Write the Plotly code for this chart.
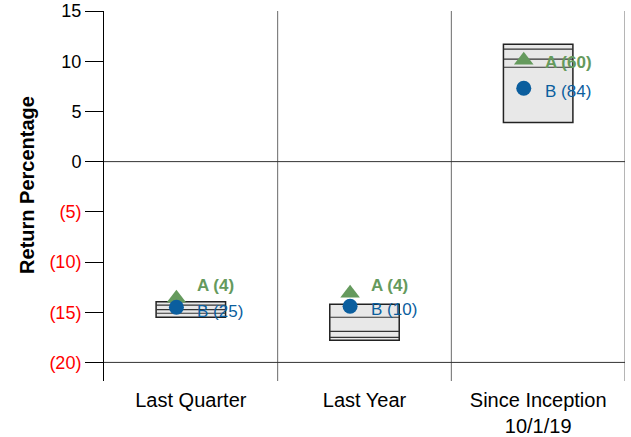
import plotly.graph_objects as go

categories = ["Last Quarter", "Last Year", "Since Inception<br>10/1/19"]
# percentile bands (top to bottom)
p05 = [-13.96, -14.2, 11.7]
p25 = [-14.3, -15.5, 11.2]
p50 = [-14.75, -16.9, 10.2]
p75 = [-15.1, -17.5, 9.4]
p95 = [-15.5, -17.8, 3.9]

a_values = [-13.6, -13.1, 10.1]
a_ranks = [4, 4, 60]
b_values = [-14.5, -14.4, 7.3]
b_ranks = [25, 10, 84]

y_ticks = [15, 10, 5, 0, -5, -10, -15, -20]

GREEN = "#659a5d"
BLUE = "#0b5e9e"
FONT = "Liberation Sans, Arial, sans-serif"

centers = [i + 0.5 for i in range(len(categories))]
half_w = 0.2
mk_off = -0.083

fig = go.Figure()

shapes = []
# vertical category dividers
for xv in range(1, len(categories) + 1):
    shapes.append(dict(type="line", xref="x", yref="y", x0=xv, x1=xv, y0=-21.85, y1=15,
                       line=dict(color="#6a6a6a", width=1), layer="below"))
# horizontal lines at 0 and -20
for yv in (0, -20):
    shapes.append(dict(type="line", xref="x", yref="y", x0=0, x1=len(categories), y0=yv, y1=yv,
                       line=dict(color="#333333", width=1), layer="below"))

for i, c in enumerate(centers):
    shapes.append(dict(type="rect", xref="x", yref="y", x0=c - half_w, x1=c + half_w,
                       y0=p95[i], y1=p05[i], fillcolor="#e8e8e8",
                       line=dict(color="#222222", width=1.5), layer="below"))
    for arr in (p25, p50, p75):
        shapes.append(dict(type="line", xref="x", yref="y", x0=c - half_w, x1=c + half_w,
                           y0=arr[i], y1=arr[i], line=dict(color="#333333", width=1.2),
                           layer="below"))

fig.add_trace(go.Scatter(
    x=[c + mk_off for c in centers], y=a_values, mode="markers",
    marker=dict(symbol="triangle-up", size=17, color=GREEN), showlegend=False,
    hoverinfo="skip"))
fig.add_trace(go.Scatter(
    x=[c + mk_off for c in centers], y=b_values, mode="markers",
    marker=dict(symbol="circle", size=15, color=BLUE), showlegend=False,
    hoverinfo="skip"))

a_shift = [13, 8, -2]
b_shift = [-3, -2, -2]
annotations = []
for i, c in enumerate(centers):
    annotations.append(dict(x=c + mk_off, y=a_values[i], xref="x", yref="y",
                            text=f"<b>A ({a_ranks[i]})</b>", showarrow=False,
                            xanchor="left", yanchor="middle", xshift=19, yshift=a_shift[i],
                            font=dict(family=FONT, size=17, color=GREEN)))
    annotations.append(dict(x=c + mk_off, y=b_values[i], xref="x", yref="y",
                            text=f"B ({b_ranks[i]})", showarrow=False,
                            xanchor="left", yanchor="middle", xshift=19, yshift=b_shift[i] - 1,
                            font=dict(family=FONT, size=17, color=BLUE)))

annotations.append(dict(x=0, y=0.53, xref="paper", yref="paper", xshift=-77,
                        text="<b>Return Percentage</b>", textangle=-90, showarrow=False,
                        xanchor="center", yanchor="middle",
                        font=dict(family=FONT, size=20, color="#000000")))

def fmt(v):
    if v < 0:
        return f"<span style='color:#ff0000'>({-v})</span>"
    return str(v)

fig.update_layout(
    width=631, height=437,
    margin=dict(l=104, r=6, t=11, b=56),
    paper_bgcolor="white", plot_bgcolor="white",
    font=dict(family=FONT, color="#000000"),
    shapes=shapes, annotations=annotations,
    xaxis=dict(range=[0, len(categories)], tickvals=centers, ticktext=categories,
               showgrid=False, zeroline=False, showline=False, ticks="", automargin=False,
               ticklabelstandoff=5,
               tickfont=dict(size=20, family=FONT, color="#000000")),
    yaxis=dict(range=[-21.85, 15], tickvals=y_ticks, ticktext=[fmt(v) for v in y_ticks],
               showgrid=False, zeroline=False, showline=True, linecolor="#000000",
               linewidth=1, ticks="outside", ticklen=18, tickcolor="#000000", automargin=False,
               tickfont=dict(size=18, family=FONT, color="#000000")),
)

fig.write_html("out.html", config={"displayModeBar": False},
               post_script="document.body.style.margin='0';document.body.style.overflow='hidden';")
